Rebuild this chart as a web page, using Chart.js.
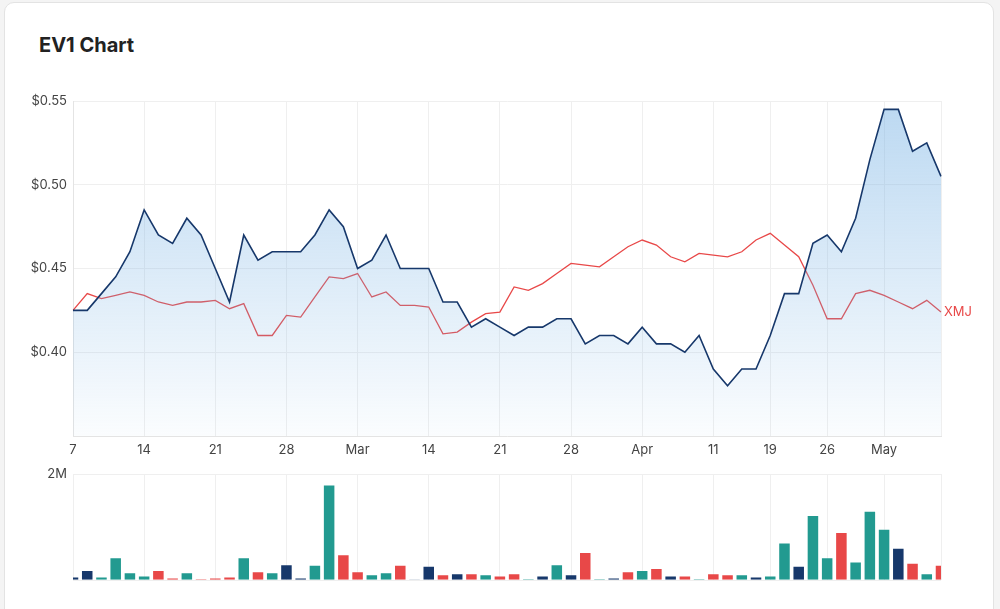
<!DOCTYPE html>
<html>
<head>
<meta charset="utf-8">
<script src="https://cdn.jsdelivr.net/npm/chart.js@4.4.1/dist/chart.umd.min.js"></script>
<style>
  body { margin: 0; background: #f4f4f4; font-family: Inter, "Open Sans", sans-serif; }
  .card { position: absolute; left: 4px; top: 2px; width: 988px; height: 640px; background: #fff;
          border: 1px solid #e3e3e3; border-radius: 10px; }
  h1 { position: absolute; left: 39px; top: 33px; margin: 0; font-size: 20px; font-weight: 700; color: #222; }
  .box { position: absolute; left: 0; width: 1000px; }
</style>
</head>
<body>
<div class="card"></div>
<h1>EV1 Chart</h1>
<div class="box" style="top:80px;height:386px"><canvas id="priceChart"></canvas></div>
<div class="box" style="top:460px;height:134px"><canvas id="volChart"></canvas></div>
<script>
// trading days, 7 Feb - 6 May
const dates = ['Feb 7','Feb 8','Feb 9','Feb 10','Feb 11','Feb 14','Feb 15','Feb 16','Feb 17','Feb 18',
  'Feb 21','Feb 22','Feb 23','Feb 24','Feb 25','Feb 28','Mar 1','Mar 2','Mar 3','Mar 4',
  'Mar 7','Mar 8','Mar 9','Mar 10','Mar 11','Mar 14','Mar 15','Mar 16','Mar 17','Mar 18',
  'Mar 21','Mar 22','Mar 23','Mar 24','Mar 25','Mar 28','Mar 29','Mar 30','Mar 31','Apr 1',
  'Apr 4','Apr 5','Apr 6','Apr 7','Apr 8','Apr 11','Apr 12','Apr 13','Apr 14','Apr 19',
  'Apr 20','Apr 21','Apr 22','Apr 26','Apr 27','Apr 28','Apr 29','May 2','May 3','May 4','May 5','May 6']

const tickAt = [0, 5, 10, 15, 20, 25, 30, 35, 40, 45, 49, 53, 57]
const tickText = ['7', '14', '21', '28', 'Mar', '14', '21', '28', 'Apr', '11', '19', '26', 'May']

const ev1 = [0.425,0.425,0.435,0.445,0.46,0.485,0.47,0.465,0.48,0.47,
  0.45,0.43,0.47,0.455,0.46,0.46,0.46,0.47,0.485,0.475,
  0.45,0.455,0.47,0.45,0.45,0.45,0.43,0.43,0.415,0.42,
  0.415,0.41,0.415,0.415,0.42,0.42,0.405,0.41,0.41,0.405,
  0.415,0.405,0.405,0.40,0.41,0.39,0.38,0.39,0.39,0.41,
  0.435,0.435,0.465,0.47,0.46,0.48,0.515,0.545,0.545,0.52,0.525,0.505]

// XMJ index rebased to EV1's first close
const xmj = [0.425,0.435,0.432,0.434,0.436,0.434,0.430,0.428,0.430,0.430,
  0.431,0.426,0.429,0.410,0.410,0.422,0.421,0.433,0.445,0.444,
  0.447,0.433,0.436,0.428,0.428,0.427,0.411,0.412,0.418,0.423,
  0.424,0.439,0.437,0.441,0.447,0.453,0.452,0.451,0.457,0.463,
  0.467,0.464,0.457,0.454,0.459,0.458,0.457,0.460,0.467,0.471,
  0.464,0.457,0.440,0.420,0.420,0.435,0.437,0.434,0.430,0.426,0.431,0.424]

const volume = [0.07,0.19,0.07,0.43,0.15,0.09,0.19,0.05,0.15,0.03,
  0.05,0.07,0.43,0.17,0.15,0.30,0.05,0.29,1.80,0.49,
  0.17,0.11,0.15,0.29,0.02,0.27,0.11,0.13,0.13,0.11,
  0.09,0.13,0.03,0.09,0.30,0.11,0.53,0.03,0.05,0.17,
  0.19,0.23,0.09,0.09,0.03,0.13,0.11,0.11,0.07,0.09,
  0.71,0.27,1.23,0.43,0.91,0.35,1.31,0.97,0.61,0.33,0.13,0.29]

const navy = '#17386b'
const red = '#e84848'
const teal = '#229a90'
const gridCol = '#efefef'
const tickFont = { family: 'Inter', size: 13 }

// bar colour follows the day's price move
function barColor (ctx) {
    const i = ctx.dataIndex
    if (i === 0 || ev1[i] === ev1[i - 1]) return navy
    return ev1[i] > ev1[i - 1] ? teal : red
}

function xGridColor (ctx) {
    return (tickAt.includes(ctx.index) || ctx.index === dates.length - 1) ? gridCol : 'transparent'
}

const endLabel = {
    id: 'endLabel',
    afterDatasetsDraw (chart) {
        const meta = chart.getDatasetMeta(1)
        const pt = meta.data[meta.data.length - 1]
        const c = chart.ctx
        c.save()
        c.font = '13px Inter'
        c.fillStyle = red
        c.textBaseline = 'middle'
        c.fillText('XMJ', pt.x + 3, pt.y)
        c.restore()
    }
}

new Chart(document.getElementById('priceChart'), {
    type: 'line',
    data: {
        labels: dates,
        datasets: [{
            label: 'EV1',
            data: ev1,
            borderColor: navy,
            borderWidth: 1.6,
            pointRadius: 0,
            tension: 0,
            fill: 'start',
            backgroundColor: ctx => {
                const area = ctx.chart.chartArea
                if (!area) return 'transparent'
                const g = ctx.chart.ctx.createLinearGradient(0, area.top, 0, area.bottom)
                g.addColorStop(0, 'rgba(120,178,228,0.50)')
                g.addColorStop(1, 'rgba(120,178,228,0.03)')
                return g
            }
        }, {
            label: 'XMJ',
            data: xmj,
            borderColor: red,
            borderWidth: 1.3,
            pointRadius: 0,
            tension: 0,
            fill: false
        }]
    },
    options: {
        animation: false,
        responsive: true,
        maintainAspectRatio: false,
        layout: { padding: { top: 21, right: 59, left: 0, bottom: 0 } },
        plugins: { legend: { display: false }, tooltip: { enabled: false } },
        scales: {
            x: {
                ticks: {
                    autoSkip: false, maxRotation: 0, padding: 6, color: '#444', font: tickFont,
                    callback: (v, i) => { const k = tickAt.indexOf(i); return k >= 0 ? tickText[k] : '' }
                },
                grid: { color: xGridColor, drawTicks: false },
                border: { color: '#e4e4e4' },
                afterFit: s => { s.height = 30 }
            },
            y: {
                min: 0.35, max: 0.55,
                ticks: {
                    stepSize: 0.05, padding: 6, color: '#444', font: tickFont,
                    callback: v => v < 0.36 ? '' : '$' + v.toFixed(2)
                },
                grid: { color: gridCol, drawTicks: false },
                border: { color: '#e4e4e4' },
                afterFit: s => { s.width = 73 }
            }
        }
    },
    plugins: [endLabel]
})

new Chart(document.getElementById('volChart'), {
    type: 'bar',
    data: {
        labels: dates,
        datasets: [{
            label: 'Volume',
            data: volume.map(v => v * 1e6),
            backgroundColor: barColor,
            borderColor: 'rgba(255,255,255,0.35)',
            borderWidth: 1,
            barPercentage: 0.88,
            categoryPercentage: 1
        }]
    },
    options: {
        animation: false,
        responsive: true,
        maintainAspectRatio: false,
        layout: { padding: { top: 14, right: 59, left: 0, bottom: 6 } },
        plugins: { legend: { display: false }, tooltip: { enabled: false } },
        scales: {
            x: {
                offset: false,
                ticks: { display: false, autoSkip: false },
                grid: { color: xGridColor, drawTicks: false, offset: false },
                border: { display: false },
                afterFit: s => { s.height = 0 }
            },
            y: {
                min: 0, max: 2e6,
                ticks: {
                    stepSize: 2e6, padding: 6, color: '#444', font: tickFont,
                    callback: v => v === 2e6 ? '2M' : ''
                },
                grid: { color: gridCol, drawTicks: false },
                border: { display: false },
                afterFit: s => { s.width = 73 }
            }
        }
    }
})
</script>
</body>
</html>
